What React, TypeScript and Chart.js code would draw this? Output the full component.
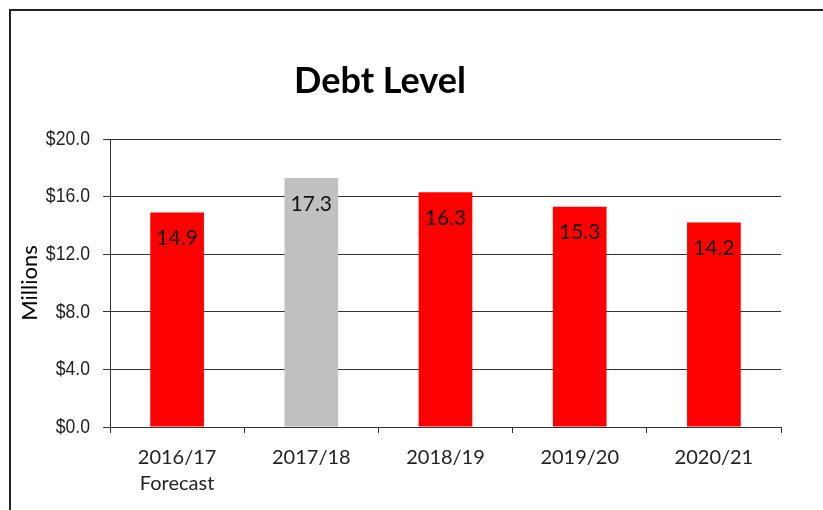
import React, { useEffect, useRef } from "react";
import { Chart, registerables } from "chart.js";

Chart.register(...registerables);

const categories: (string | string[])[] = [["2016/17", "Forecast"], "2017/18", "2018/19", "2019/20", "2020/21"];
const debtValues: number[] = [14.9, 17.3, 16.3, 15.3, 14.2];
const barColors: string[] = ["#FF0000", "#C0C0C0", "#FF0000", "#FF0000", "#FF0000"];
const yMin = 0;
const yMax = 20;
const yStep = 4;
const chartTitle = "Debt Level";
const yAxisTitle = "Millions";

const formatTick = (v: number) => "$" + Number(v).toFixed(1);

const titlePlugin = {
  id: "customTitle",
  afterDraw(chart: any) {
    const ctx = chart.ctx;
    ctx.save();
    ctx.font = "bold 36px Lato, 'Open Sans', sans-serif";
    ctx.fillStyle = "#000";
    ctx.textAlign = "center";
    ctx.textBaseline = "middle";
    ctx.fillText(chartTitle, 380, 81);
    ctx.restore();
  },
};

// y tick labels drawn narrow (like Arial Narrow) from the y scale's own ticks
const narrowTickPlugin = {
  id: "narrowTicks",
  afterDraw(chart: any) {
    const ctx = chart.ctx;
    const scale = chart.scales.y;
    ctx.save();
    ctx.font = "21px 'Liberation Sans', Arial, sans-serif";
    ctx.fillStyle = "#222";
    ctx.textAlign = "right";
    ctx.textBaseline = "middle";
    scale.ticks.forEach((t: any) => {
      const y = scale.getPixelForValue(t.value);
      ctx.save();
      ctx.translate(90, y);
      ctx.scale(0.84, 1);
      ctx.fillText(formatTick(t.value), 0, 0);
      ctx.restore();
    });
    ctx.restore();
  },
};

const valueLabelPlugin = {
  id: "valueLabels",
  afterDatasetsDraw(chart: any) {
    const ctx = chart.ctx;
    const meta = chart.getDatasetMeta(0);
    ctx.save();
    ctx.font = "21px Lato, 'Open Sans', sans-serif";
    ctx.fillStyle = "#111";
    ctx.textAlign = "center";
    ctx.textBaseline = "middle";
    meta.data.forEach((bar: any, i: number) => {
      ctx.fillText(debtValues[i].toFixed(1), bar.x, bar.y + 26);
    });
    ctx.restore();
  },
};

export default function App() {
  const canvasRef = useRef<HTMLCanvasElement | null>(null);

  useEffect(() => {
    if (!canvasRef.current) return;
    const chart = new Chart(canvasRef.current, {
      type: "bar",
      data: {
        labels: categories,
        datasets: [
          {
            data: debtValues,
            backgroundColor: barColors,
            borderWidth: 0,
            categoryPercentage: 1,
            barPercentage: 0.4,
          },
        ],
      },
      options: {
        responsive: false,
        animation: false,
        layout: { padding: { top: 139, right: 42, bottom: 0, left: 0 } },
        plugins: {
          legend: { display: false },
          tooltip: { enabled: false },
          title: { display: false },
        },
        scales: {
          x: {
            afterFit: (scale: any) => {
              scale.height = 83;
            },
            grid: {
              drawOnChartArea: false,
              drawTicks: true,
              tickLength: 6,
              color: "#333",
              lineWidth: 1,
            },
            border: { display: true, color: "#333", width: 1 },
            ticks: {
              color: "#222",
              padding: 12,
              font: { family: "Lato, 'Open Sans', sans-serif", size: 20, lineHeight: 1.3 },
              maxRotation: 0,
              autoSkip: false,
            },
          },
          y: {
            min: yMin,
            max: yMax,
            afterFit: (scale: any) => {
              scale.width = 110;
            },
            grid: {
              color: "#333",
              lineWidth: 1,
              tickLength: 7,
              drawTicks: true,
            },
            border: { display: true, color: "#333", width: 1 },
            ticks: {
              stepSize: yStep,
              color: "rgba(0,0,0,0)",
              padding: 13,
              font: { family: "'Liberation Sans', sans-serif", size: 21 },
              callback: (v: any) => formatTick(v),
            },
            title: {
              display: true,
              text: yAxisTitle,
              color: "#000",
              font: { family: "Lato, 'Open Sans', sans-serif", size: 22 },
              padding: { top: 17, bottom: 0 },
            },
          },
        },
      },
      plugins: [titlePlugin, narrowTickPlugin, valueLabelPlugin],
    });
    return () => chart.destroy();
  }, []);

  return (
    <div
      style={{
        position: "fixed",
        left: 0,
        top: 0,
        width: 823,
        height: 510,
        overflow: "hidden",
        background: "#fff",
      }}
    >
      <div
        style={{
          position: "absolute",
          left: 9,
          top: 9,
          width: 814,
          height: 501,
          borderTop: "2px solid #222",
          borderLeft: "2px solid #222",
          boxSizing: "border-box",
        }}
      />
      <canvas
        ref={canvasRef}
        width={823}
        height={510}
        style={{ position: "absolute", left: 0, top: 0, width: 823, height: 510 }}
      />
    </div>
  );
}
